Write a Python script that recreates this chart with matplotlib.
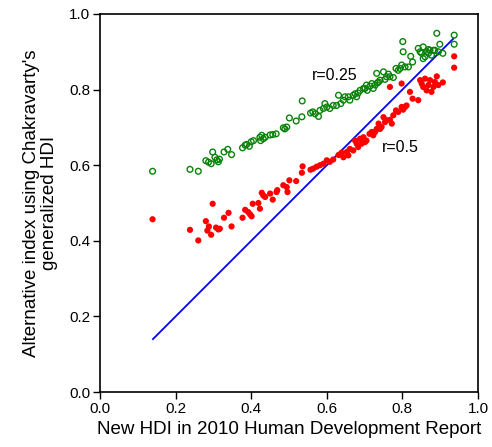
import matplotlib
matplotlib.use("Agg")
import matplotlib.pyplot as plt
import numpy as np

plt.rcParams['font.family'] = ['Liberation Sans', 'DejaVu Sans']

# r = 0.25 (open green circles)
green_x = [0.139, 0.238, 0.260, 0.280, 0.287, 0.298, 0.304, 0.309, 0.313, 0.316,
           0.294, 0.328, 0.338, 0.348, 0.377, 0.384, 0.388, 0.395, 0.400, 0.406,
           0.423, 0.428, 0.432, 0.437, 0.425, 0.450, 0.457, 0.466, 0.485, 0.489,
           0.494, 0.501, 0.519, 0.534, 0.535, 0.557, 0.563, 0.569, 0.578, 0.582,
           0.591, 0.595, 0.600, 0.608, 0.617, 0.626, 0.637, 0.644, 0.648, 0.657,
           0.661, 0.670, 0.679, 0.683, 0.688, 0.697, 0.701, 0.707, 0.714, 0.719,
           0.723, 0.728, 0.732, 0.734, 0.741, 0.750, 0.754, 0.758, 0.767, 0.776,
           0.783, 0.789, 0.798, 0.801, 0.802, 0.807, 0.816, 0.822, 0.827, 0.842,
           0.847, 0.851, 0.855, 0.860, 0.864, 0.869, 0.873, 0.877, 0.882, 0.886,
           0.891, 0.895, 0.899, 0.907, 0.937, 0.937, 0.631, 0.675, 0.705, 0.737,
           0.763, 0.794, 0.855, 0.869]
green_y = [0.584, 0.589, 0.584, 0.612, 0.608, 0.635, 0.621, 0.614, 0.609, 0.616,
           0.604, 0.635, 0.642, 0.628, 0.646, 0.653, 0.655, 0.650, 0.662, 0.665,
           0.674, 0.679, 0.670, 0.674, 0.665, 0.680, 0.681, 0.683, 0.699, 0.696,
           0.701, 0.725, 0.717, 0.728, 0.770, 0.738, 0.741, 0.736, 0.729, 0.745,
           0.750, 0.763, 0.754, 0.750, 0.758, 0.758, 0.763, 0.772, 0.781, 0.781,
           0.772, 0.785, 0.781, 0.791, 0.798, 0.803, 0.803, 0.798, 0.809, 0.816,
           0.803, 0.812, 0.843, 0.818, 0.825, 0.847, 0.827, 0.834, 0.834, 0.832,
           0.856, 0.851, 0.865, 0.927, 0.900, 0.860, 0.860, 0.888, 0.873, 0.909,
           0.900, 0.896, 0.913, 0.887, 0.900, 0.896, 0.904, 0.891, 0.904, 0.904,
           0.949, 0.900, 0.920, 0.896, 0.944, 0.920, 0.785, 0.789, 0.812, 0.820,
           0.841, 0.856, 0.882, 0.906]

# r = 0.5 (filled red circles)
red_x = [0.139, 0.238, 0.260, 0.280, 0.284, 0.288, 0.294, 0.298, 0.307, 0.313,
         0.317, 0.328, 0.340, 0.348, 0.377, 0.384, 0.392, 0.397, 0.401, 0.404,
         0.419, 0.423, 0.428, 0.432, 0.437, 0.450, 0.457, 0.467, 0.469, 0.485,
         0.494, 0.496, 0.501, 0.519, 0.534, 0.536, 0.557, 0.564, 0.573, 0.582,
         0.591, 0.600, 0.608, 0.617, 0.631, 0.639, 0.639, 0.653, 0.661, 0.675,
         0.679, 0.688, 0.697, 0.705, 0.713, 0.719, 0.723, 0.732, 0.737, 0.745,
         0.750, 0.754, 0.758, 0.767, 0.772, 0.776, 0.783, 0.789, 0.798, 0.802,
         0.807, 0.811, 0.767, 0.798, 0.820, 0.827, 0.842, 0.847, 0.851, 0.855,
         0.860, 0.864, 0.869, 0.873, 0.877, 0.882, 0.886, 0.891, 0.895, 0.907,
         0.937, 0.937, 0.644, 0.657, 0.670, 0.683, 0.692, 0.701, 0.728, 0.741]
red_y = [0.457, 0.429, 0.401, 0.452, 0.427, 0.438, 0.416, 0.498, 0.435, 0.430,
         0.432, 0.461, 0.474, 0.438, 0.461, 0.482, 0.476, 0.470, 0.465, 0.498,
         0.500, 0.485, 0.527, 0.520, 0.516, 0.525, 0.509, 0.529, 0.534, 0.547,
         0.542, 0.529, 0.560, 0.558, 0.580, 0.597, 0.588, 0.591, 0.596, 0.600,
         0.604, 0.613, 0.609, 0.615, 0.627, 0.633, 0.628, 0.635, 0.643, 0.665,
         0.657, 0.670, 0.674, 0.665, 0.683, 0.688, 0.679, 0.696, 0.710, 0.701,
         0.727, 0.714, 0.719, 0.720, 0.710, 0.732, 0.745, 0.741, 0.754, 0.747,
         0.754, 0.758, 0.807, 0.816, 0.794, 0.776, 0.772, 0.825, 0.816, 0.807,
         0.829, 0.798, 0.812, 0.825, 0.794, 0.807, 0.820, 0.835, 0.812, 0.819,
         0.888, 0.858, 0.621, 0.626, 0.639, 0.648, 0.657, 0.661, 0.688, 0.696]

line_x = [0.14, 0.935]

fig = plt.figure(figsize=(4.92, 4.47), dpi=100)
ax = fig.add_axes([0.2033, 0.123, 0.7682, 0.8457])

ax.plot(line_x, line_x, color='#0000ff', lw=1.3, zorder=2)
ax.scatter(green_x, green_y, s=17, facecolors='none', edgecolors='#0a820a',
           linewidths=1.0, zorder=3)
ax.scatter(red_x, red_y, s=20, color='#ff0000', edgecolors='none', zorder=3)

ax.text(0.622, 0.836, 'r=0.25', fontsize=11.5, ha='center', va='center')
ax.text(0.795, 0.648, 'r=0.5', fontsize=11.5, ha='center', va='center')

ax.set_xlim(0, 1)
ax.set_ylim(0, 1)
ticks = [0.0, 0.2, 0.4, 0.6, 0.8, 1.0]
ax.set_xticks(ticks)
ax.set_yticks(ticks)
ax.set_xticklabels(['%.1f' % t for t in ticks])
ax.set_yticklabels(['%.1f' % t for t in ticks])
ax.tick_params(direction='out', length=5, width=1, labelsize=11, pad=2)
for s in ax.spines.values():
    s.set_linewidth(1.2)

ax.set_xlabel('New HDI in 2010 Human Development Report', fontsize=13.5, labelpad=4)
ax.set_ylabel("Alternative index using Chakravarty's\ngeneralized HDI", fontsize=13.5,
              labelpad=8, linespacing=1.05)

fig.savefig('out.png', dpi=100)
